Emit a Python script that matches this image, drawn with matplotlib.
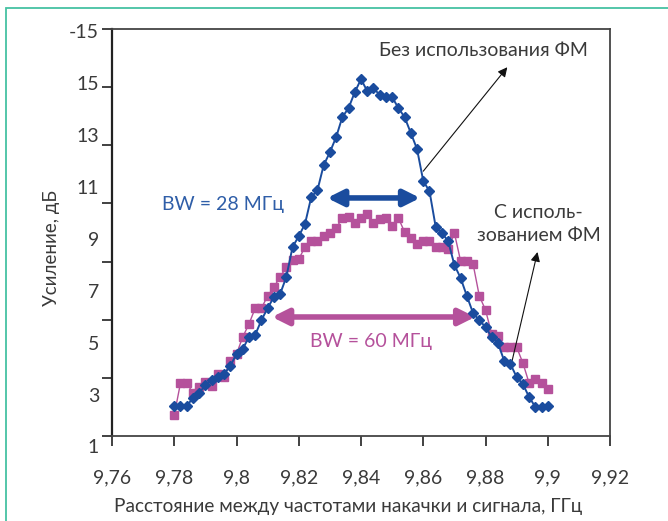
import numpy as np
import matplotlib
matplotlib.use('Agg')
import matplotlib.pyplot as plt
from matplotlib.patches import Rectangle
import matplotlib.transforms as mtransforms

plt.rcParams['font.family'] = ['Lato', 'DejaVu Sans']

# frequency spacing, GHz (step 0.002)
freq = np.round(np.arange(9.78, 9.9001, 0.002), 3)

# gain without phase modulation, dB
gain_no_fm = [2.62, 2.62, 2.62, 2.92, 3.12, 3.42, 3.62, 3.73, 3.85, 4.15,
              4.62, 4.81, 5.27, 5.35, 5.92, 6.38, 6.81, 6.92, 7.58, 8.73,
              9.15, 9.62, 10.65, 10.92, 11.88, 12.38, 12.96, 13.73, 14.08, 14.69,
              15.19, 14.73, 14.85, 14.58, 14.50, 14.50, 14.08, 13.73, 13.12, 12.50,
              11.27, 10.88, 9.50, 9.27, 8.96, 8.04, 7.54, 6.85, 6.19, 5.92,
              5.65, 5.27, 5.04, 4.35, 4.23, 3.73, 3.46, 2.96, 2.58, 2.58, 2.62]

# gain with phase modulation, dB
gain_fm = [2.27, 3.50, 3.50, 3.12, 3.35, 3.54, 3.38, 3.85, 3.73, 4.35,
           4.62, 5.27, 5.77, 6.38, 6.38, 6.85, 7.19, 7.58, 7.96, 8.23,
           8.27, 8.73, 8.96, 8.96, 9.15, 9.27, 9.46, 9.85, 9.88, 9.65,
           9.85, 10.00, 9.65, 9.81, 9.85, 9.54, 9.85, 9.31, 9.08, 8.85,
           8.96, 8.96, 8.73, 8.73, 8.65, 9.27, 8.19, 8.19, 8.08, 6.85,
           6.31, 5.38, 5.31, 4.88, 4.88, 4.88, 4.27, 3.50, 3.65, 3.50, 3.27]

x_ticks = [9.76, 9.78, 9.80, 9.82, 9.84, 9.86, 9.88, 9.90, 9.92]
x_labels = ['9,76', '9,78', '9,8', '9,82', '9,84', '9,86', '9,88', '9,9', '9,92']
# y labels as printed in the original (top one reads "-15")
y_label_vals = [1, 3, 5, 7, 9, 11, 13, 15, 17]
y_labels = ['1', '3', '5', '7', '9', '11', '13', '15', '-15']

blue = '#1a4c9e'
magenta = '#b5519b'
txt = '#3a3a3a'

fig = plt.figure(figsize=(6.68, 5.21), dpi=100)
ax = fig.add_axes([0.1677, 0.1631, 0.7455, 0.7812])

# teal page frame
fig.patches.append(Rectangle((0.009, -0.2), 1.5, 0.9846 + 0.2, transform=fig.transFigure,
                             fill=False, edgecolor='#45c2a3', lw=1.3))

ax.plot(freq, gain_fm, color=magenta, lw=1.0, marker='s', ms=6, mec=magenta, mfc=magenta, zorder=3)
ax.plot(freq, gain_no_fm, color=blue, lw=1.4, marker='D', ms=4.8, mec=blue, mfc=blue, zorder=4)

ylo, yhi = 1.46, 17.12
ax.set_xlim(9.76, 9.92)
ax.set_ylim(ylo, yhi)

ax.set_xticks(x_ticks)
ax.set_xticklabels(x_labels)
ax.set_yticks(np.linspace(ylo, yhi, 8))
ax.set_yticklabels([])
ax.tick_params(axis='y', direction='out', length=7, width=1.3, color='#333333')
ax.tick_params(axis='x', direction='out', length=7, width=1.3, color='#333333',
               pad=17, labelsize=14, labelcolor=txt)

# y labels drawn beside the axis (they sit off the tick marks in the original)
ytrans = mtransforms.blended_transform_factory(ax.transAxes, ax.transData)
for v, lab in zip(y_label_vals, y_labels):
    ax.text(-0.026, v, lab, transform=ytrans, ha='right', va='center', fontsize=14,
            color=txt, clip_on=False)

for s in ax.spines.values():
    s.set_color('#444444')
    s.set_linewidth(1.3)
ax.spines['left'].set_color('#222222')
ax.spines['left'].set_linewidth(1.6)

ax.set_ylabel('Усиление, дБ', fontsize=13.5, color=txt)
ax.yaxis.set_label_coords(-0.104, 0.462)
ax.set_xlabel('Расстояние между частотами накачки и сигнала, ГГц', fontsize=13.7, color=txt)
ax.xaxis.set_label_coords(0.474, -0.152)

# bandwidth arrows
ax.annotate('', xy=(9.8291, 10.62), xytext=(9.8590, 10.62),
            arrowprops=dict(arrowstyle='<|-|>', color=blue, lw=4, mutation_scale=24,
                            shrinkA=0, shrinkB=0))
ax.annotate('', xy=(9.8114, 6.04), xytext=(9.8767, 6.04),
            arrowprops=dict(arrowstyle='<|-|>', color=magenta, lw=4, mutation_scale=24,
                            shrinkA=0, shrinkB=0))
ax.text(9.776, 10.35, 'BW = 28 МГц', color='#2f5ea8', fontsize=14, va='center', ha='left')
ax.text(9.8237, 5.08, 'BW = 60 МГц', color=magenta, fontsize=14, va='center', ha='left')

# curve labels
ax.text(9.8793, 16.31, 'Без использования ФМ', color=txt, fontsize=14, ha='center', va='center')
ax.annotate('', xy=(9.887, 15.65), xytext=(9.860, 11.65),
            arrowprops=dict(arrowstyle='-|>', color='#111111', lw=0.8, mutation_scale=14,
                            shrinkA=0, shrinkB=0))
ax.text(9.897, 9.62, 'С исполь-\nзованием ФМ', color=txt, fontsize=14, ha='center', va='center',
        linespacing=1.45)
ax.annotate('', xy=(9.8967, 8.54), xytext=(9.8883, 4.23),
            arrowprops=dict(arrowstyle='-|>', color='#111111', lw=0.8, mutation_scale=14,
                            shrinkA=0, shrinkB=0))

fig.savefig('out.png', dpi=100)
